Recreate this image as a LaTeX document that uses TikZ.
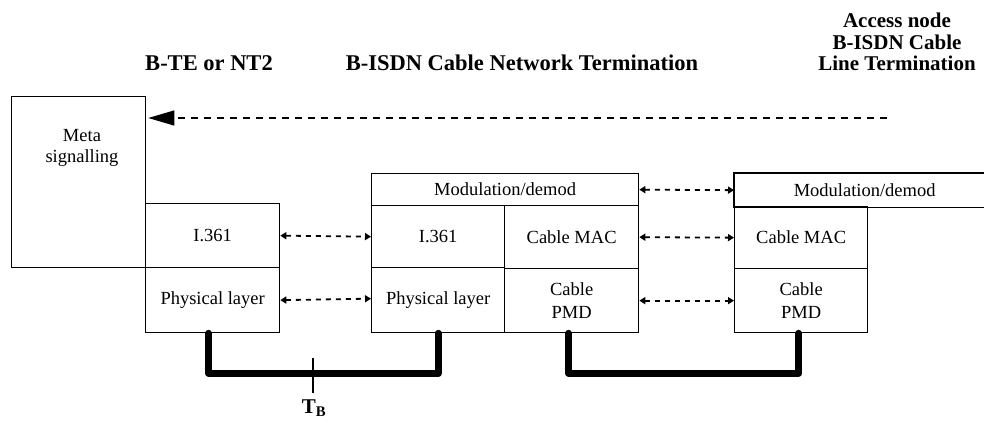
\documentclass[tikz,border=0pt]{standalone}
\usepackage{fontspec}
\setmainfont{Liberation Serif}
\usetikzlibrary{arrows.meta}
\newcommand\bodyfont{\fontsize{18.5}{23}\selectfont}
\newcommand\headfont{\fontsize{22.5}{22.5}\selectfont\bfseries}
\newcommand\sidefont{\fontsize{21}{21.5}\selectfont\bfseries}
\begin{document}
\begin{tikzpicture}[x=1pt,y=-1pt,
  frame/.style={line width=1.3pt},
  box/.style={draw, frame, rectangle, anchor=north west, inner sep=0pt,
    font=\bodyfont, align=center},
  head/.style={font=\headfont, align=center, inner sep=0pt},
  peer/.style={line width=1.8pt, dash pattern=on 5pt off 5pt,
    {Triangle[length=6pt,width=7pt]}-{Triangle[length=6pt,width=7pt]}},
  sigline/.style={line width=1.1pt, dash pattern=on 7pt off 6pt,
    -{Triangle[length=26pt,width=15pt]}},
  cable/.style={line width=7pt, line cap=round, line join=round},
  refmark/.style={line width=2.6pt}]
\useasboundingbox (0,0) rectangle (984,421);

% column headings
\node[head] (hte) at (209,63) {B-TE or NT2};
\node[head] (hnt) at (522,63) {B-ISDN Cable Network Termination};
\node[head, font=\sidefont] (hlt) at (897,42) {Access node\\B-ISDN Cable\\Line Termination};

% terminal equipment stack
\node[box, minimum width=134pt, minimum height=171pt] (meta) at (11,96) {};
\node[font=\bodyfont, align=center, inner sep=0pt] (metatext) at (82,148)
  {Meta\\[-2pt]signalling};
\node[box, minimum width=134pt, minimum height=64pt] (li361) at (145,203) {I.361};
\node[box, minimum width=134pt, minimum height=65pt] (lphy) at (145,267) {Physical layer};

% network termination stack
\node[box, minimum width=267pt, minimum height=32pt] (mmod) at (371,173) {Modulation/demod};
\node[box, minimum width=133pt, minimum height=62pt] (mi361) at (371,205) {I.361};
\node[box, minimum width=133pt, minimum height=65pt] (mphy) at (371,267) {Physical layer};
\node[box, minimum width=134pt, minimum height=63pt] (mmac) at (504,205) {Cable MAC};
\node[box, minimum width=134pt, minimum height=64pt] (mpmd) at (504,268) {Cable\\PMD};

% line termination stack
\node[box, draw=none, minimum width=260pt, minimum height=33pt] (rmod) at (734,173) {Modulation/demod};
\draw[frame] ([xshift=250pt]rmod.north west) -- (rmod.north west)
  -- (rmod.south west) -- ([xshift=250pt]rmod.south west);
\node[box, minimum width=133pt, minimum height=62pt] (rmac) at (734,206) {Cable MAC};
\node[box, minimum width=133pt, minimum height=64pt] (rpmd) at (734,268) {Cable\\PMD};

% meta-signalling path
\coordinate (sigstart) at (887,118);
\draw[sigline] (sigstart) -- ([yshift=-22pt,xshift=2pt]meta.north east);

% peer-to-peer relations
\draw[peer] (li361.east) -- (mi361.west);
\draw[peer] (lphy.east) -- ([yshift=1.5pt]mphy.west);
\draw[peer] (mmod.east) -- (rmod.west);
\draw[peer] (mmac.east) -- (rmac.west);
\draw[peer] (mpmd.east) -- (rpmd.west);

% physical media
\draw[cable] ([xshift=-4pt]lphy.south) -- ++(0,40) -| (mphy.south);
\draw[cable] ([xshift=-3pt]mpmd.south) -- ++(0,40) -| ([xshift=-2.5pt]rpmd.south);

% reference point T_B
\coordinate (tbpt) at (313,372);
\draw[refmark] ([yshift=14pt]tbpt) -- ([yshift=-21pt]tbpt);
\node[font=\sidefont, anchor=base, inner sep=0pt] (tb) at (314,413) {T\textsubscript{B}};
\end{tikzpicture}
\end{document}
